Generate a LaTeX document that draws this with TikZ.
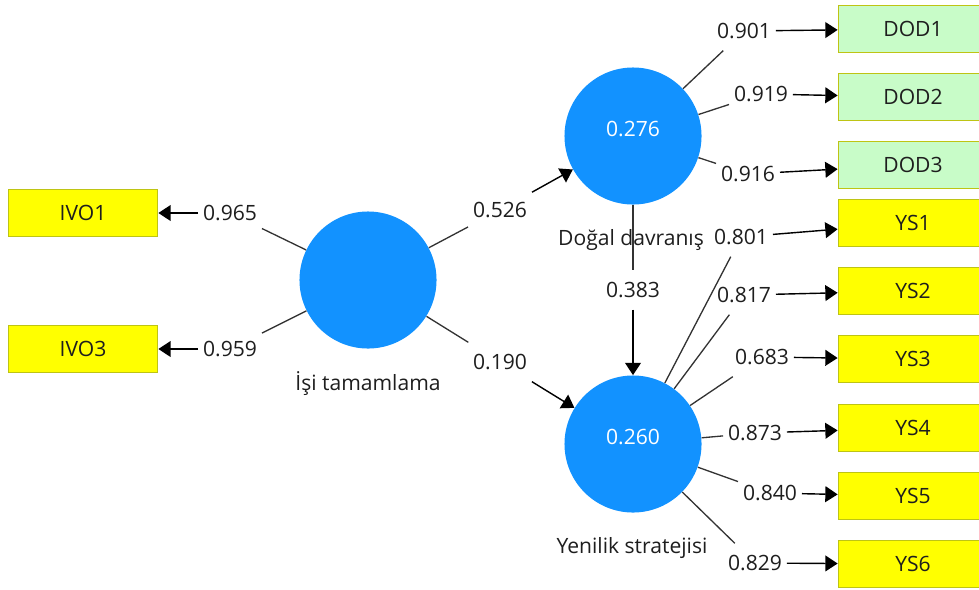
\documentclass[tikz,border=0pt]{standalone}
\usepackage{fontspec}
\setmainfont{Open Sans}
\usetikzlibrary{arrows.meta}
\definecolor{lvblue}{RGB}{18,146,255}
\definecolor{mvyellow}{RGB}{255,255,0}
\definecolor{mvgreen}{RGB}{200,252,200}
\definecolor{mvedge}{RGB}{190,196,20}
\definecolor{txt}{RGB}{30,30,30}
\begin{document}
\begin{tikzpicture}[x=0.02cm,y=-0.02cm,
  every node/.style={font=\fontsize{12}{14}\selectfont, text=txt},
  latent/.style={circle, fill=lvblue, minimum size=78pt, inner sep=0pt},
  lvval/.style={text=white, inner sep=0pt},
  indic/.style={rectangle, draw=mvedge, line width=0.8pt, fill=mvyellow,
    minimum width=85pt, minimum height=27pt, inner sep=0pt},
  indicg/.style={indic, fill=mvgreen},
  coef/.style={inner sep=0pt, minimum width=36pt, minimum height=22pt},
  lvname/.style={inner sep=1pt},
  link/.style={draw=black!80, line width=0.75pt},
  arr/.style={draw=black, line width=0.8pt, -{Triangle[length=7pt,width=9pt]}},
]
\useasboundingbox (0,0) rectangle (979,589);

% latent variables
\node[latent] (isi) at (368,280) {};
\node[latent] (dog) at (633,136) {};
\node[latent] (yen) at (633,444) {};
\node[lvval] (dogV) at (633,129) {0.276};
\node[lvval] (yenV) at (633,437) {0.260};
\node[lvname] (isiL) at (368,384) {İşi tamamlama};
\node[lvname] (dogL) at (631,240) {Doğal davranış};
\node[lvname] (yenL) at (632,548) {Yenilik stratejisi};

% indicators
\node[indic] (ivo1) at (83,213) {IVO1};
\node[indic] (ivo3) at (83,349) {IVO3};
\node[indicg] (dod1) at (913,29) {DOD1};
\node[indicg] (dod2) at (913,97) {DOD2};
\node[indicg] (dod3) at (913,165) {DOD3};
\node[indic] (ys1) at (913,223) {YS1};
\node[indic] (ys2) at (913,291) {YS2};
\node[indic] (ys3) at (913,359) {YS3};
\node[indic] (ys4) at (913,428) {YS4};
\node[indic] (ys5) at (913,496) {YS5};
\node[indic] (ys6) at (913,564) {YS6};

% path coefficients and loadings
\node[coef] (c965) at (230,213) {0.965};
\node[coef] (c959) at (230,349) {0.959};
\node[coef] (c526) at (500,210) {0.526};
\node[coef] (c190) at (500,362) {0.190};
\node[coef] (c383) at (633,290) {0.383};
\node[coef] (c901) at (744,31) {0.901};
\node[coef] (c919) at (761,94) {0.919};
\node[coef] (c916) at (748,174) {0.916};
\node[coef] (c801) at (741,237) {0.801};
\node[coef] (c817) at (744,295) {0.817};
\node[coef] (c683) at (762,357) {0.683};
\node[coef] (c873) at (755,433) {0.873};
\node[coef] (c840) at (770,493) {0.840};
\node[coef] (c829) at (755,563) {0.829};

% structural paths
\draw[link] (isi) -- (c526); \draw[arr] (c526) -- (dog);
\draw[link] (isi) -- (c190); \draw[arr] (c190) -- (yen);
\draw[link] (dog) -- (c383); \draw[arr] (c383) -- (yen);

% outer loadings
\draw[link] (isi) -- (c965); \draw[arr] (c965) -- (ivo1);
\draw[link] (isi) -- (c959); \draw[arr] (c959) -- (ivo3);
\draw[link] (dog) -- (c901); \draw[arr] (c901) -- (dod1);
\draw[link] (dog) -- (c919); \draw[arr] (c919) -- (dod2);
\draw[link] (dog) -- (c916); \draw[arr] (c916) -- (dod3);
\draw[link] (yen) -- (c801); \draw[arr] (c801) -- (ys1);
\draw[link] (yen) -- (c817); \draw[arr] (c817) -- (ys2);
\draw[link] (yen) -- (c683); \draw[arr] (c683) -- (ys3);
\draw[link] (yen) -- (c873); \draw[arr] (c873) -- (ys4);
\draw[link] (yen) -- (c840); \draw[arr] (c840) -- (ys5);
\draw[link] (yen) -- (c829); \draw[arr] (c829) -- (ys6);
\end{tikzpicture}
\end{document}
